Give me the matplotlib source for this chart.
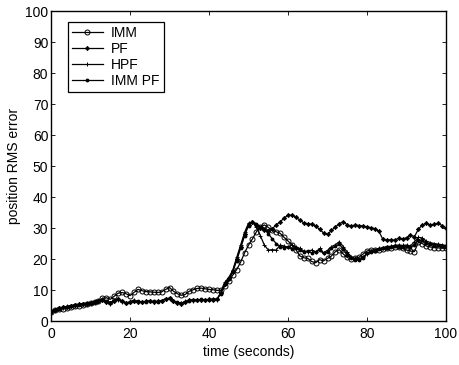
import numpy as np
import matplotlib
matplotlib.use("Agg")
import matplotlib.pyplot as plt

plt.rcParams['font.family'] = ['Liberation Sans', 'DejaVu Sans']

t = np.arange(0, 101)

imm = [3.0, 3.4, 3.8, 4.0, 4.3, 4.5, 4.8, 5.0, 5.3, 5.5,
       5.7, 6.0, 6.6, 7.3, 7.5, 7.0, 8.0, 9.0, 9.2, 8.8,
       8.2, 9.2, 10.2, 9.8, 9.5, 9.4, 9.3, 9.2, 9.4, 10.2,
       10.8, 9.6, 8.8, 8.3, 8.6, 9.6, 10.1, 10.5, 10.6, 10.4,
       10.2, 10.1, 9.9, 9.9, 11.2, 12.8, 14.8, 16.6, 19.0, 22.0,
       24.5, 26.5, 28.8, 30.4, 31.0, 30.2, 29.2, 28.8, 28.3, 27.0,
       25.8, 24.6, 23.0, 21.0, 20.4, 20.2, 19.2, 18.8, 19.8, 19.4,
       20.2, 21.0, 22.4, 23.0, 21.6, 20.5, 20.0, 20.2, 20.6, 21.6,
       22.6, 22.9, 22.8, 23.0, 23.2, 23.4, 23.6, 23.9, 23.8, 23.4,
       22.9, 22.6, 22.4, 25.4, 25.0, 24.2, 23.9, 23.7, 23.6, 23.5,
       23.4]

pf = [3.2, 3.7, 4.1, 4.4, 4.6, 4.9, 5.1, 5.4, 5.6, 5.5,
      5.8, 6.0, 6.4, 6.9, 6.2, 5.7, 6.6, 7.0, 6.3, 5.8,
      6.1, 6.6, 6.2, 6.0, 6.4, 6.3, 6.2, 6.4, 6.5, 7.0,
      7.3, 6.5, 5.9, 5.6, 6.2, 6.8, 6.7, 6.8, 6.9, 6.8,
      7.0, 6.9, 7.0, 9.0, 12.0, 13.8, 16.0, 20.0, 24.0, 28.0,
      31.0, 32.0, 31.0, 30.0, 29.4, 28.9, 29.8, 31.0, 32.0, 33.2,
      34.2, 34.1, 33.4, 32.6, 31.6, 31.4, 31.2, 30.6, 29.6, 28.4,
      28.0, 29.2, 30.4, 31.4, 32.1, 31.0, 30.6, 31.0, 30.8, 30.6,
      30.4, 30.1, 29.8, 28.9, 26.4, 26.1, 26.2, 26.1, 26.7, 26.4,
      26.9, 27.8, 27.2, 29.6, 31.0, 31.5, 31.0, 31.2, 31.5, 30.8,
      30.0]

hpf = [3.1, 3.6, 4.2, 4.3, 4.7, 5.0, 5.0, 5.5, 5.5, 5.6,
       5.7, 6.1, 6.5, 7.0, 6.0, 5.6, 6.8, 6.9, 6.1, 5.7,
       6.2, 6.8, 6.0, 6.1, 6.3, 6.4, 6.1, 6.3, 6.6, 7.2,
       7.1, 6.3, 5.8, 5.7, 6.3, 6.8, 6.6, 6.9, 6.8, 6.9,
       6.9, 7.0, 6.9, 9.4, 12.5, 14.0, 16.4, 20.5, 24.5, 28.6,
       31.6, 31.8, 30.4, 27.5, 24.5, 22.9, 23.0, 22.9, 24.5, 24.2,
       23.8, 24.5, 24.0, 23.4, 22.6, 22.4, 22.9, 22.2, 23.4, 22.0,
       22.8, 24.0, 24.6, 25.6, 24.0, 22.2, 20.8, 20.2, 20.0, 20.8,
       21.6, 22.6, 23.0, 23.4, 23.6, 24.0, 24.1, 24.4, 24.5, 24.4,
       24.5, 24.2, 25.6, 27.0, 26.8, 25.8, 25.3, 25.0, 24.8, 24.6,
       24.4]

immpf = [3.0, 3.5, 4.0, 4.5, 4.5, 4.8, 5.2, 5.3, 5.6, 5.7,
         5.9, 6.2, 6.6, 6.8, 6.4, 5.9, 6.5, 7.1, 6.5, 5.9,
         6.0, 6.5, 6.3, 6.2, 6.2, 6.5, 6.3, 6.2, 6.6, 7.1,
         7.4, 6.4, 6.0, 5.8, 6.1, 6.6, 6.8, 6.7, 7.0, 6.7,
         6.9, 7.1, 7.1, 8.8, 11.8, 13.5, 15.8, 19.5, 23.5, 27.5,
         30.8, 32.0, 31.4, 30.4, 29.6, 28.2, 26.5, 25.0, 24.0, 23.6,
         23.8, 23.2, 23.5, 22.9, 22.2, 22.6, 22.0, 22.4, 22.8, 21.8,
         22.3, 23.4, 24.2, 24.8, 23.2, 21.4, 20.4, 19.8, 19.6, 20.4,
         21.8, 22.4, 22.6, 23.1, 23.5, 23.6, 23.9, 24.2, 24.0, 23.8,
         24.1, 23.8, 24.6, 26.2, 26.0, 25.2, 24.9, 24.6, 24.4, 24.2,
         24.1]

fig = plt.figure(figsize=(4.6, 3.65), dpi=100)
ax = fig.add_axes([0.111, 0.1205, 0.8586, 0.8493])

ax.plot(t, imm, color='black', lw=0.9, marker='o', ms=3.6, mfc='none',
        mew=0.7, label='IMM')
ax.plot(t, pf, color='black', lw=0.9, marker='D', ms=2.2, mfc='black',
        mew=0.5, label='PF')
ax.plot(t, hpf, color='black', lw=0.9, marker='+', ms=3.2, mew=0.7,
        label='HPF')
ax.plot(t, immpf, color='black', lw=0.9, marker='.', ms=3.5,
        label='IMM PF')

ax.set_xlim(0, 100)
ax.set_ylim(0, 100)
ax.set_xticks([0, 20, 40, 60, 80, 100])
ax.set_yticks(np.arange(0, 101, 10))
ax.tick_params(direction='in', top=True, right=True, labelsize=10,
               length=3, width=0.6)
ax.tick_params(axis='x', pad=4)
ax.tick_params(axis='y', pad=2)
for s in ax.spines.values():
    s.set_linewidth(1.0)

ax.set_xlabel('time (seconds)', fontsize=10, labelpad=3)
ax.set_ylabel('position RMS error', fontsize=10, labelpad=3)

leg = ax.legend(loc='upper left', bbox_to_anchor=(0.043, 0.965),
                borderaxespad=0, fontsize=10, fancybox=False,
                handlelength=2.2, labelspacing=0.15, borderpad=0.3,
                handletextpad=0.6, framealpha=1)
leg.get_frame().set_edgecolor('black')
leg.get_frame().set_linewidth(0.9)

fig.savefig('out.png', dpi=100)
